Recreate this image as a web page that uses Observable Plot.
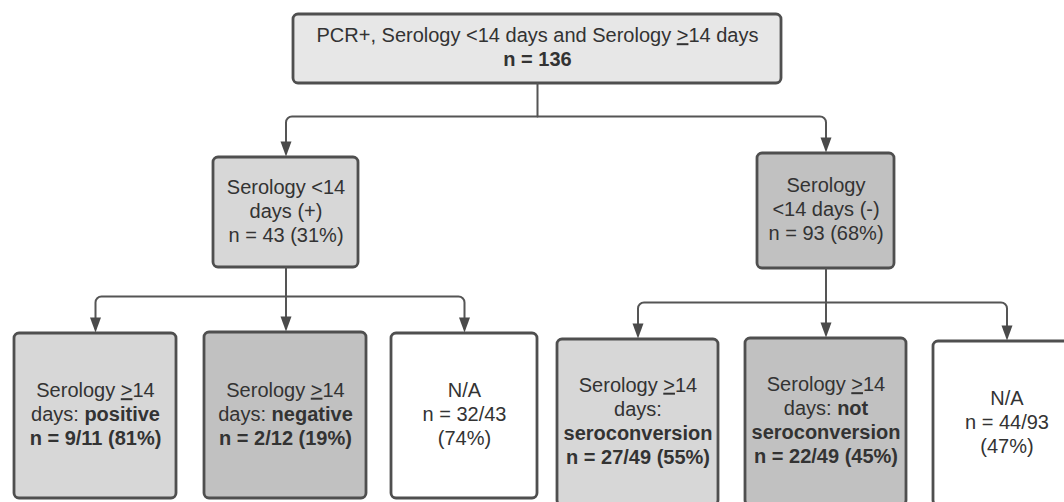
<!DOCTYPE html>
<html>
<head>
<meta charset="utf-8">
<script src="https://cdn.jsdelivr.net/npm/d3@7"></script>
<script src="https://cdn.jsdelivr.net/npm/@observablehq/plot@0.6"></script>
<style>
  html, body { margin: 0; padding: 0; background: #fff; }
  #chart svg { display: block; }
</style>
</head>
<body>
<div id="chart"></div>
<script>
// ---- data ----
const nodeIds = ["root", "pos", "neg", "pos14", "neg14", "na1", "sero", "notsero", "na2"];
const nodeLabels = [
  "PCR+, Serology <14 days and Serology _>_14 days\n**n = 136**",
  "Serology <14\ndays (+)\nn = 43 (31%)",
  "Serology\n<14 days (-)\nn = 93 (68%)",
  "Serology _>_14\ndays: **positive**\n**n = 9/11 (81%)**",
  "Serology _>_14\ndays: **negative**\n**n = 2/12 (19%)**",
  "N/A\nn = 32/43\n(74%)",
  "Serology _>_14\ndays:\n**seroconversion**\n**n = 27/49 (55%)**",
  "Serology _>_14\ndays: **not**\n**seroconversion**\n**n = 22/49 (45%)**",
  "N/A\nn = 44/93\n(47%)"
];
const nodeTones = ["top", "light", "dark", "light", "dark", "none", "light", "dark", "none"];
const edgeParents = ["root", "pos", "neg"];
const edgeChildren = [["pos", "neg"], ["pos14", "neg14", "na1"], ["sero", "notsero", "na2"]];

// ---- layout (diagram geometry) ----
const layout = {
  root:    {x1: 293, x2: 781,  y1: 14,  y2: 83},
  pos:     {x1: 213, x2: 358,  y1: 157, y2: 267},
  neg:     {x1: 757, x2: 894,  y1: 153, y2: 268},
  pos14:   {x1: 14,  x2: 176,  y1: 333, y2: 498},
  neg14:   {x1: 204, x2: 366,  y1: 332, y2: 498},
  na1:     {x1: 391, x2: 537,  y1: 333, y2: 498},
  sero:    {x1: 557, x2: 718,  y1: 339, y2: 505},
  notsero: {x1: 745, x2: 906,  y1: 338, y2: 505},
  na2:     {x1: 933, x2: 1080, y1: 341, y2: 505}
};
const barY = {root: 116, pos: 296, neg: 302};
const toneFill = {top: "#e7e7e7", light: "#d7d7d7", dark: "#c1c1c1", none: "#ffffff"};

const nodes = nodeIds.map((id, i) => {
  const b = layout[id];
  return {id, label: nodeLabels[i], tone: nodeTones[i], ...b, cx: (b.x1 + b.x2) / 2, cy: (b.y1 + b.y2) / 2};
});
const byId = Object.fromEntries(nodes.map(d => [d.id, d]));

// connectors
const ARROW_LEN = 15;
const segs = [];
const arrows = [];
edgeParents.forEach((pid, k) => {
  const p = byId[pid];
  const kids = edgeChildren[k].map(id => byId[id]);
  const by = barY[pid];
  const ax = kids.map((c, i) => (kids.length % 2 === 1 && i === (kids.length - 1) / 2) ? p.cx : c.cx);
  segs.push({id: pid + "-stem", pts: [[p.cx, p.y2], [p.cx, by]]});
  const first = kids[0], last = kids[kids.length - 1];
  segs.push({id: pid + "-bar", pts: [
    [ax[0], first.y1 - ARROW_LEN + 2], [ax[0], by],
    [ax[ax.length - 1], by], [ax[ax.length - 1], last.y1 - ARROW_LEN + 2]
  ]});
  kids.forEach((c, i) => {
    if (i > 0 && i < kids.length - 1) segs.push({id: c.id + "-drop", pts: [[ax[i], by], [ax[i], c.y1 - ARROW_LEN + 2]]});
    arrows.push({x: ax[i], y: c.y1 - 1});
  });
});
const linePts = segs.flatMap(s => s.pts.map(([x, y]) => ({id: s.id, x, y})));

// custom curve: straight segments with rounded corners
function roundedCurve(r) {
  return (context) => {
    let pts;
    return {
      areaStart() {}, areaEnd() {},
      lineStart() { pts = []; },
      point(x, y) { pts.push([+x, +y]); },
      lineEnd() {
        if (!pts.length) return;
        context.moveTo(pts[0][0], pts[0][1]);
        for (let i = 1; i < pts.length - 1; i++) context.arcTo(pts[i][0], pts[i][1], pts[i + 1][0], pts[i + 1][1], r);
        const e = pts[pts.length - 1];
        context.lineTo(e[0], e[1]);
      }
    };
  };
}
const arrowSymbol = {
  draw(ctx) { ctx.moveTo(0, 0); ctx.lineTo(-5.5, -ARROW_LEN); ctx.lineTo(5.5, -ARROW_LEN); ctx.closePath(); }
};

const chart = Plot.plot({
  width: 1064,
  height: 502,
  margin: 0,
  x: {domain: [0, 1064], range: [0, 1064], axis: null},
  y: {domain: [0, 502], range: [0, 502], axis: null},
  style: {background: "#fff", fontFamily: "'Liberation Sans', Arial, sans-serif"},
  marks: [
    Plot.rect(nodes, {x1: "x1", x2: "x2", y1: "y1", y2: "y2", fill: d => toneFill[d.tone], stroke: "#4f4f4f", strokeWidth: 2.8, rx: 5}),
    Plot.text(nodes, {x: "cx", y: "cy", dy: -2.5, text: "label", fontSize: 20, lineHeight: 1.2, fill: "#333333", textAnchor: "middle", lineAnchor: "middle"}),
    Plot.line(linePts, {x: "x", y: "y", z: "id", curve: roundedCurve(6), stroke: "#555555", strokeWidth: 2}),
    Plot.dot(arrows, {x: "x", y: "y", symbol: arrowSymbol, fill: "#4a4a4a", stroke: "none"})
  ]
});

// rich text: **bold**, _underline_
function enrich(el) {
  const s = el.textContent;
  if (!/\*\*|_/.test(s)) return;
  el.textContent = "";
  for (const part of s.split(/(\*\*.+?\*\*|_.+?_)/)) {
    if (!part) continue;
    const t = document.createElementNS("http://www.w3.org/2000/svg", "tspan");
    if (part.startsWith("**") && part.endsWith("**")) { t.setAttribute("font-weight", "bold"); t.textContent = part.slice(2, -2); }
    else if (part.length > 2 && part.startsWith("_") && part.endsWith("_")) { t.setAttribute("text-decoration", "underline"); t.textContent = part.slice(1, -1); }
    else t.textContent = part;
    el.appendChild(t);
  }
}
chart.querySelectorAll('g[aria-label="text"] text').forEach(txt => {
  const lines = txt.querySelectorAll("tspan");
  if (lines.length) lines.forEach(enrich); else enrich(txt);
});

document.getElementById("chart").appendChild(chart);
</script>
</body>
</html>
